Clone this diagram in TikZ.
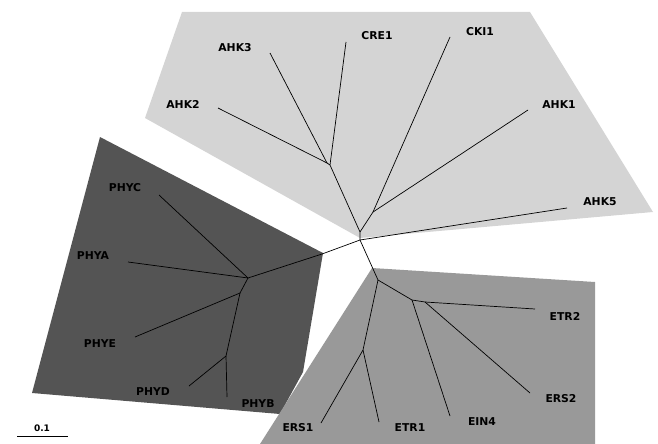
\documentclass[tikz,border=0pt]{standalone}
\usepackage{fontspec}
\setsansfont{DejaVu Sans}
\usetikzlibrary{positioning}

\definecolor{histgray}{gray}{0.83}
\definecolor{phygray}{gray}{0.33}
\definecolor{ethgray}{gray}{0.60}

\tikzset{
  gene/.style={font=\sffamily\bfseries\fontsize{10.8}{13}\selectfont, inner sep=0pt},
  branch/.style={draw=black, line width=0.7pt},
}

\begin{document}
\begin{tikzpicture}[x=1pt, y=-1pt] % one unit = one pixel, y downwards
            \useasboundingbox (0,0) rectangle (658,444);

            % 1. Shaded groups
            \fill[histgray] (182,12) -- (530,12) -- (653,212) -- (360,238) -- (145,118) -- cycle;
            \fill[phygray] (100,137) -- (323,253) -- (303,372) -- (280,414) -- (32,393) -- cycle;
            \fill[ethgray] (372,268) -- (595,282) -- (595,444) -- (260,444) -- cycle;

            % 2. Inner branch points
            \coordinate (root) at (360,240);
            \coordinate (hk) at (360,232);
            \coordinate (hka) at (327,163);
            \coordinate (hkb) at (330,165);
            \coordinate (hkc) at (373,212);
            \coordinate (phy) at (322,254);
            \coordinate (phya) at (248,278);
            \coordinate (phyb) at (240,293);
            \coordinate (phyc) at (226,356);
            \coordinate (eth) at (378,280);
            \coordinate (etha) at (412,300);
            \coordinate (ethb) at (425,302);
            \coordinate (ethc) at (363,350);

            % 3. Leaf tips
            \coordinate (tAHKii) at (218,108);
            \coordinate (tAHKiii) at (270,53);
            \coordinate (tCRE) at (346,42);
            \coordinate (tCKI) at (450,37);
            \coordinate (tAHKi) at (528,110);
            \coordinate (tAHKv) at (567,208);
            \coordinate (tPHYC) at (159,195);
            \coordinate (tPHYA) at (128,262);
            \coordinate (tPHYE) at (135,337);
            \coordinate (tPHYD) at (189,386);
            \coordinate (tPHYB) at (227,397);
            \coordinate (tETRii) at (535,309);
            \coordinate (tERSii) at (530,393);
            \coordinate (tEIN) at (450,416);
            \coordinate (tETRi) at (379,422);
            \coordinate (tERSi) at (321,423);

            % 4. Branches
            \draw[branch] (root) -- (hk) -- (hkb) -- (hka) -- (tAHKii);
            \draw[branch] (hka) -- (tAHKiii);
            \draw[branch] (hkb) -- (tCRE);
            \draw[branch] (hk) -- (hkc) -- (tCKI);
            \draw[branch] (hkc) -- (tAHKi);
            \draw[branch] (root) -- (tAHKv);
            \draw[branch] (root) -- (phy) -- (phya) -- (tPHYC);
            \draw[branch] (phya) -- (tPHYA);
            \draw[branch] (phya) -- (phyb) -- (tPHYE);
            \draw[branch] (phyb) -- (phyc) -- (tPHYD);
            \draw[branch] (phyc) -- (tPHYB);
            \draw[branch] (root) -- (eth) -- (etha) -- (ethb) -- (tETRii);
            \draw[branch] (ethb) -- (tERSii);
            \draw[branch] (etha) -- (tEIN);
            \draw[branch] (eth) -- (ethc) -- (tERSi);
            \draw[branch] (ethc) -- (tETRi);

            % 5. Gene names
            \node[gene] (AHKii) at (183,104) {AHK2};
            \node[gene] (AHKiii) at (235,48) {AHK3};
            \node[gene] (CRE) at (377,36) {CRE1};
            \node[gene] (CKI) at (480,32) {CKI1};
            \node[gene] (AHKi) at (559,105) {AHK1};
            \node[gene] (AHKv) at (600,202) {AHK5};
            \node[gene] (PHYC) at (125,188) {PHYC};
            \node[gene] (PHYA) at (93,256) {PHYA};
            \node[gene] (PHYE) at (100,344) {PHYE};
            \node[gene] (PHYD) at (153,392) {PHYD};
            \node[gene] (PHYB) at (258,404) {PHYB};
            \node[gene] (ETRii) at (565,316) {ETR2};
            \node[gene] (ERSii) at (561,399) {ERS2};
            \node[gene] (EIN) at (482,422) {EIN4};
            \node[gene] (ETRi) at (410,428) {ETR1};
            \node[gene] (ERSi) at (298,428) {ERS1};

            % 6. Scale bar
            \coordinate (barL) at (17,436);
            \coordinate (barR) at (68,436);
            \draw[branch] (barL) -- (barR);
            \node[gene, font=\sffamily\bfseries\fontsize{9}{11}\selectfont] (bar) at (42,428) {0.1};
        \end{tikzpicture}
\end{document}
